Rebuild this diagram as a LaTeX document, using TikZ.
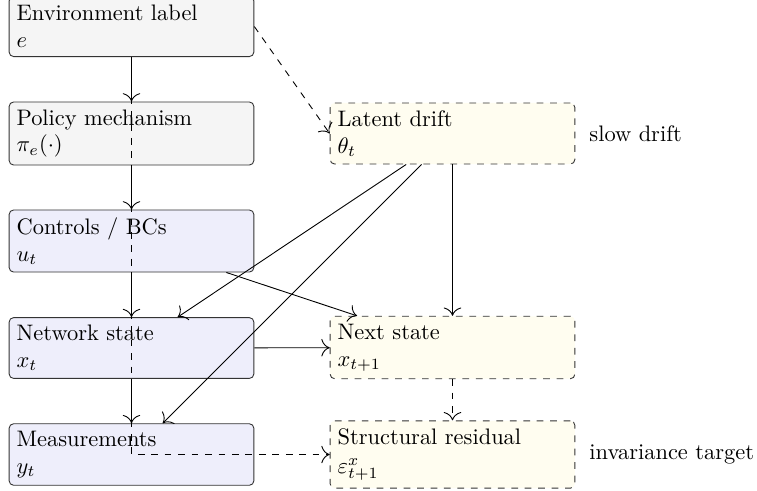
\documentclass[tikz,border=0pt]{standalone}
\usetikzlibrary{arrows.meta}

\definecolor{boxgray}{HTML}{F5F5F5}
\definecolor{boxblue}{HTML}{EEEEFB}
\definecolor{boxcream}{HTML}{FFFDF0}
\definecolor{edgegray}{HTML}{333333}

\tikzset{
  block/.style={draw=edgegray, rounded corners=2pt, text width=3.6cm,
    align=left, minimum height=26.8pt, inner sep=0.3333em},
  obsblock/.style={block, fill=boxgray},
  stateblock/.style={block, fill=boxblue},
  latentblock/.style={block, fill=boxcream, dashed},
  note/.style={anchor=west, inner sep=0.3333em},
  flow/.style={-{Computer Modern Rightarrow[scale=1.5]}, black},
  dflow/.style={flow, dashed}
}

\begin{document}
\begin{tikzpicture}[x=0.4458pt, y=-0.4458pt]
  \useasboundingbox (0,0) rectangle (757,490);

  % left column: observed chain
  \node[obsblock]   (env)    at (131.5, 26.5)  {Environment label\\ $e$};
  \node[obsblock]   (policy) at (131.5, 133.5) {Policy mechanism\\ $\pi_e(\cdot)$};
  \node[stateblock] (ctrl)   at (131.5, 241)   {Controls / BCs\\ $u_t$};
  \node[stateblock] (net)    at (131.5, 348)   {Network state\\ $x_t$};
  \node[stateblock] (meas)   at (131.5, 454.5) {Measurements\\ $y_t$};

  % right column: latent and predicted quantities
  \node[latentblock] (drift) at (452.5, 133.5) {Latent drift\\ $\theta_t$};
  \node[latentblock] (next)  at (452.5, 347.5) {Next state\\ $x_{t+1}$};
  \node[latentblock] (res)   at (452.5, 454.5) {Structural residual\\[1pt] $\varepsilon^{x}_{t+1}$};

  % side notes
  \node[note] (slow) at (581.5, 133.5) {slow drift};
  \node[note] (inv)  at (581.5, 454.5) {invariance target};

  % main causal chain
  \draw[flow] (env) -- (policy);
  \draw[flow] (policy) -- (ctrl);
  \draw[flow] (ctrl) -- (net);
  \draw[flow] (net) -- (meas);

  % environment effects
  \draw[dflow] (env.east) -- (drift.west);
  \draw[dflow] (env) |- (res);

  % drift influences
  \draw[flow] (drift) -- (net);
  \draw[flow] (drift) -- (meas);
  \draw[flow] (drift) -- (next);

  % transition
  \draw[flow] (ctrl) -- (next);
  \draw[flow] (net) -- (next);
  \draw[dflow] (next) -- (res);
\end{tikzpicture}
\end{document}
